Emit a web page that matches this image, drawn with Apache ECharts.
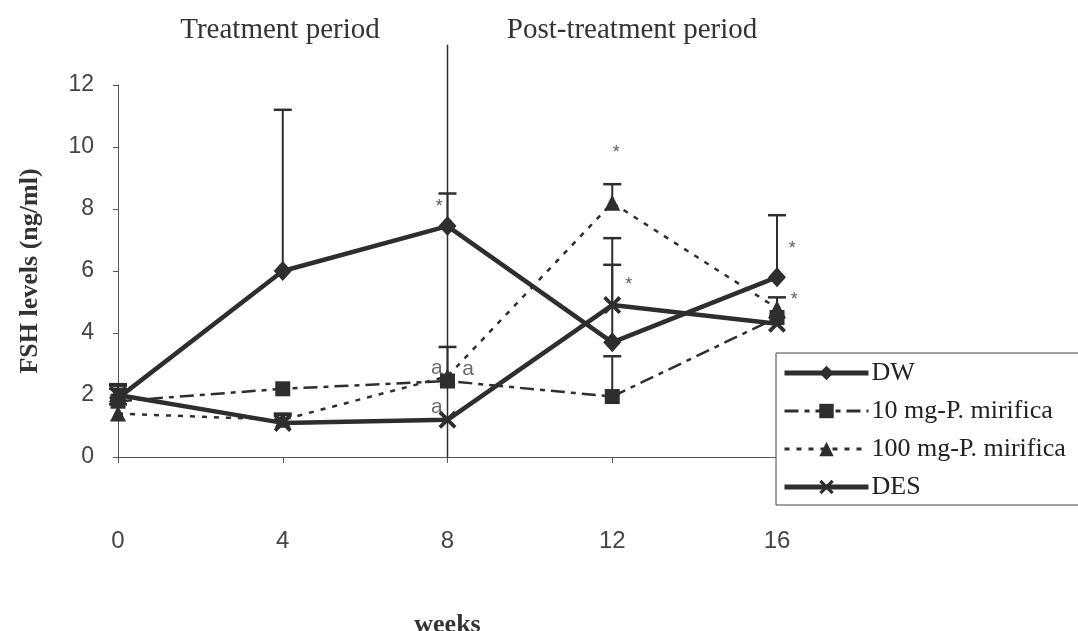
<!doctype html>
<html lang="en">
<head>
    <meta charset="UTF-8">
    <title>FSH levels</title>
    <style>
        html, body {margin: 0; padding: 0; background: #fff;}
        #chart {width: 1078px; height: 631px;}
    </style>
</head>
<body>
<div id="chart"></div>
<script src="https://cdn.jsdelivr.net/npm/echarts@6/dist/echarts.min.js"></script>
<script>
    // data
    var weeks = [0, 4, 8, 12, 16];
    var seriesNames = ['DW', '10 mg-P. mirifica', '100 mg-P. mirifica', 'DES'];
    var dw    = [1.9, 6.0, 7.45, 3.7, 5.8];
    var mg10  = [1.8, 2.2, 2.45, 1.95, 4.5];
    var mg100 = [1.4, 1.2, 2.6, 8.2, 4.8];
    var des   = [2.0, 1.1, 1.2, 4.9, 4.3];
    // upper error bars (SD), plus only
    var dwErr    = [0.45, 5.2, 1.05, 3.36, 2.0];
    var mg10Err  = [0.5, 0, 1.1, 1.3, 0.65];
    var mg100Err = [0.3, 0.2, 0, 0.6, 0];
    var desErr   = [0.2, 0.25, 0, 1.3, 0];
    var yTicks = [0, 2, 4, 6, 8, 10, 12];
    var dividerWeek = 8;
    var dividerTop = 13.3;
    // significance marks [week, value, text]
    var stars = [[7.8, 8.05, '*'], [12.1, 9.8, '*'], [12.4, 5.55, '*'], [16.37, 6.7, '*'], [16.42, 5.05, '*']];
    var letters = [[7.74, 2.88, 'a'], [8.5, 2.82, 'a'], [7.74, 1.6, 'a']];

    var ink = '#2e2e2e';
    var xSym = 'path://M0,1.5 L1.5,0 L5,3.5 L8.5,0 L10,1.5 L6.5,5 L10,8.5 L8.5,10 L5,6.5 L1.5,10 L0,8.5 L3.5,5 Z';

    function pairs(vals) {
        return weeks.map(function (w, i) { return [w, vals[i]]; });
    }
    function errData(vals, errs) {
        var out = [];
        weeks.forEach(function (w, i) {
            if (errs[i] > 0) out.push([w, vals[i], vals[i] + errs[i]]);
        });
        return out;
    }
    function renderErr(params, api) {
        var p0 = api.coord([api.value(0), api.value(1)]);
        var p1 = api.coord([api.value(0), api.value(2)]);
        return {
            type: 'group',
            children: [
                {type: 'line', shape: {x1: p0[0], y1: p0[1], x2: p1[0], y2: p1[1]}, style: {stroke: ink, lineWidth: 2}},
                {type: 'line', shape: {x1: p1[0] - 9, y1: p1[1], x2: p1[0] + 9, y2: p1[1]}, style: {stroke: ink, lineWidth: 2.5}}
            ]
        };
    }
    function renderDivider(params, api) {
        var p0 = api.coord([api.value(0), api.value(1)]);
        var p1 = api.coord([api.value(0), api.value(2)]);
        return {type: 'line', shape: {x1: p0[0], y1: p0[1], x2: p1[0], y2: p1[1]}, style: {stroke: ink, lineWidth: 1.5}};
    }
    function errSeries(vals, errs) {
        return {
            type: 'custom', renderItem: renderErr, data: errData(vals, errs),
            encode: {x: 0, y: [1, 2]}, silent: true, z: 1
        };
    }
    function noteSeries(data, size, family, color) {
        return {
            type: 'scatter', data: data, symbolSize: 1, silent: true, z: 5, clip: false,
            itemStyle: {color: 'rgba(0,0,0,0)'},
            label: {
                show: true, position: 'inside', formatter: function (p) { return p.value[2]; },
                fontSize: size, fontFamily: family, color: color
            }
        };
    }
    function lineSeries(name, vals, symbol, size, width, type) {
        return {
            name: name, type: 'line', data: pairs(vals), symbol: symbol, symbolSize: size,
            lineStyle: {color: ink, width: width, type: type},
            itemStyle: {color: ink, borderWidth: 0}, z: 3
        };
    }
    function legendItem(name, width) {
        return {name: name, lineStyle: {width: width}};
    }

    var chart = echarts.init(document.getElementById('chart'));
    chart.setOption({
        animation: false,
        backgroundColor: '#fff',
        grid: {left: 118, right: 301, top: 85, bottom: 174, containLabel: false, outerBoundsMode: 'none'},
        graphic: [
            {type: 'text', x: 280, y: 30, style: {text: 'Treatment period', textAlign: 'center', textVerticalAlign: 'middle',
                font: '29px "Liberation Serif"', fill: '#333'}},
            {type: 'text', x: 632, y: 30, style: {text: 'Post-treatment period', textAlign: 'center', textVerticalAlign: 'middle',
                font: '29px "Liberation Serif"', fill: '#333'}}
        ],
        legend: {
            data: [legendItem(seriesNames[0], 5), legendItem(seriesNames[1], 3),
                   legendItem(seriesNames[2], 3), legendItem(seriesNames[3], 5)],
            orient: 'vertical', left: 776, top: 353,
            itemWidth: 84, itemHeight: 18, itemGap: 12,
            padding: [7, 40, 5, 6],
            borderColor: '#444', borderWidth: 1, backgroundColor: '#fff',
            textStyle: {fontFamily: 'Liberation Serif', fontSize: 26, color: '#222', padding: [0, 0, 0, -2]}
        },
        xAxis: {
            type: 'value', min: 0, max: 16, interval: 4,
            name: 'weeks', nameLocation: 'middle', nameGap: 155,
            nameTextStyle: {fontFamily: 'Liberation Serif', fontWeight: 'bold', fontSize: 26, color: '#333'},
            axisLine: {lineStyle: {color: '#555', width: 1}},
            axisTick: {length: 6, lineStyle: {color: '#555'}},
            axisLabel: {margin: 72, fontFamily: 'Liberation Sans', fontSize: 24, color: '#444'},
            splitLine: {show: false}
        },
        yAxis: {
            type: 'value', min: yTicks[0], max: yTicks[yTicks.length - 1], interval: 2,
            name: 'FSH levels (ng/ml)', nameLocation: 'middle', nameGap: 75,
            nameTextStyle: {fontFamily: 'Liberation Serif', fontWeight: 'bold', fontSize: 26, color: '#333'},
            axisLine: {show: true, lineStyle: {color: '#555', width: 1}},
            axisTick: {show: true, length: 5, lineStyle: {color: '#555'}},
            axisLabel: {margin: 24, fontFamily: 'Liberation Sans', fontSize: 23, color: '#444'},
            splitLine: {show: false}
        },
        series: [
            {type: 'custom', renderItem: renderDivider, data: [[dividerWeek, 0, dividerTop]],
                encode: {x: 0, y: [1, 2]}, clip: false, silent: true, z: 1},
            errSeries(dw, dwErr),
            errSeries(mg10, mg10Err),
            errSeries(mg100, mg100Err),
            errSeries(des, desErr),
            lineSeries(seriesNames[0], dw, 'diamond', [18, 20], 4.5, 'solid'),
            lineSeries(seriesNames[1], mg10, 'rect', 15, 2.5, [14, 6, 5, 6]),
            lineSeries(seriesNames[2], mg100, 'triangle', 16, 2.5, [5, 7]),
            lineSeries(seriesNames[3], des, xSym, 18, 4.5, 'solid'),
            noteSeries(stars, 18, 'Liberation Sans', '#333'),
            noteSeries(letters, 21, 'Liberation Sans', '#444')
        ]
    });
</script>
</body>
</html>
